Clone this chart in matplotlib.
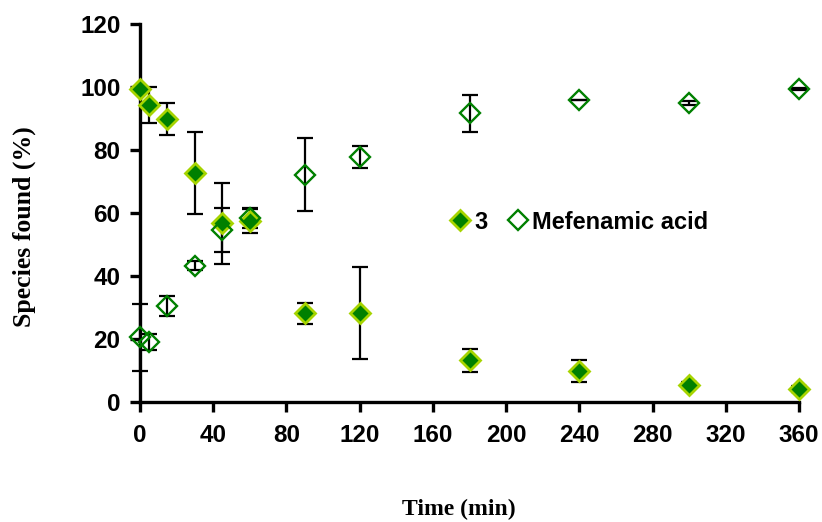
import matplotlib.pyplot as plt
import numpy as np

# sampling times (min)
time = [0, 5, 15, 30, 45, 60, 90, 120, 180, 240, 300, 360]

# compound 3 (% found) and its error
cmpd3 = [99.5, 94.2, 89.8, 72.8, 56.7, 57.5, 28.2, 28.2, 13.2, 9.9, 5.4, 4.1]
cmpd3_err = [0, 5.7, 5.0, 13.0, 12.8, 4.0, 3.3, 14.5, 3.6, 3.5, 1.0, 1.0]

# mefenamic acid (% found) and its error
mef = [20.5, 19.1, 30.5, 43.3, 54.5, 58.3, 72.2, 77.7, 91.6, 96.0, 94.8, 99.3]
mef_err = [10.5, 2.5, 3.3, 1.5, 7.0, 3.0, 11.7, 3.5, 6.0, 0, 0.6, 0.3]

xticks = np.arange(0, 361, 40)
yticks = np.arange(0, 121, 20)

fig = plt.figure(figsize=(8.22, 5.22), dpi=100)
ax = fig.add_axes([140/822, 1 - 402/522, 659/822, 378/522])

ebkw = dict(fmt='none', ecolor='black', elinewidth=1.6, capsize=6,
            capthick=1.6, clip_on=False, zorder=2)
ax.errorbar(time, cmpd3, yerr=cmpd3_err, **ebkw)
ax.errorbar(time, mef, yerr=mef_err, **ebkw)

ax.plot(time, cmpd3, linestyle='none', marker='D', markersize=10.3,
        markerfacecolor='#008000', markeredgecolor='#a6d400',
        markeredgewidth=2.0, clip_on=False, zorder=3, label='3')
ax.plot(time, mef, linestyle='none', marker='D', markersize=10.3,
        markerfacecolor='none', markeredgecolor='#008000',
        markeredgewidth=1.7, clip_on=False, zorder=3, label='Mefenamic acid')

ax.set_xlim(0, 360)
ax.set_ylim(0, 120)
ax.set_xticks(xticks)
ax.set_yticks(yticks)

for s in ['top', 'right']:
    ax.spines[s].set_visible(False)
for s in ['left', 'bottom']:
    ax.spines[s].set_linewidth(2.4)

ax.tick_params(axis='both', direction='out', length=7, width=2.4,
               labelsize=17.5)
ax.tick_params(axis='y', pad=7)
ax.tick_params(axis='x', pad=9)
for lab in ax.get_xticklabels() + ax.get_yticklabels():
    lab.set_fontfamily('Liberation Sans')
    lab.set_fontweight('bold')

leg = ax.legend(loc='center', bbox_to_anchor=(0.665, 0.476), ncol=2,
                frameon=False, handletextpad=0.1, columnspacing=0.8,
                handlelength=1.0,
                prop={'family': 'Liberation Sans', 'weight': 'bold', 'size': 17})

fig.text(24/822, 1 - 227/522, 'Species found (%)', rotation=90,
         ha='center', va='center', family='Liberation Serif',
         weight='bold', fontsize=18.5)
fig.text(459/822, 1 - 509/522, 'Time (min)', ha='center', va='center',
         family='Liberation Serif', weight='bold', fontsize=17)

fig.savefig('out.png', dpi=100)
